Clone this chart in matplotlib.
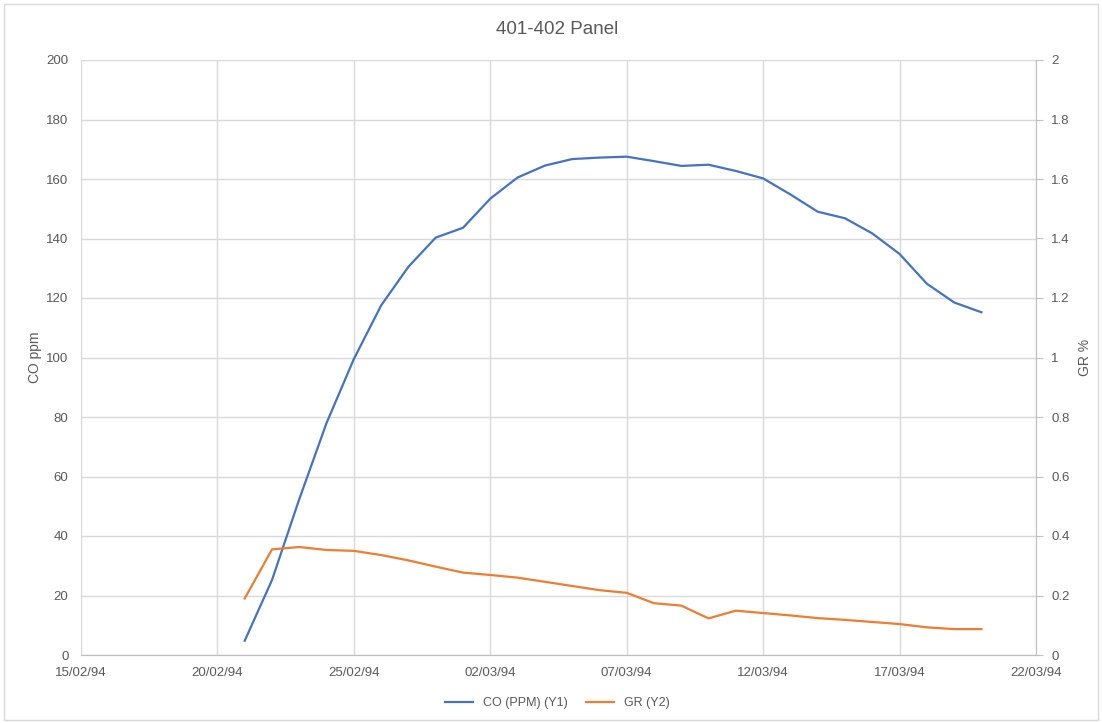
import numpy as np
import matplotlib
matplotlib.use("Agg")
import matplotlib.pyplot as plt
import matplotlib.dates as mdates
import matplotlib.patches as patch
from datetime import datetime, timedelta

plt.rcParams['font.family'] = ['Liberation Sans', 'DejaVu Sans']

# Daily readings, 21/02/94 to 20/03/94
start_day = datetime(1994, 2, 21)
co_ppm = [4.8, 25.2, 52.4, 78.0, 99.5, 117.5, 130.5, 140.3, 143.6, 153.4,
          160.5, 164.5, 166.7, 167.2, 167.5, 166.0, 164.4, 164.8, 162.7, 160.2,
          154.8, 149.0, 146.8, 141.7, 134.8, 124.8, 118.5, 115.2]
gr_pct = [0.19, 0.355, 0.363, 0.353, 0.35, 0.336, 0.318, 0.297, 0.277, 0.269,
          0.26, 0.246, 0.232, 0.218, 0.209, 0.174, 0.166, 0.123, 0.149, 0.141,
          0.133, 0.124, 0.118, 0.111, 0.104, 0.093, 0.087, 0.087]
days = [start_day + timedelta(days=i) for i in range(len(co_ppm))]

title = "401-402 Panel"
y1_label = "CO ppm"
y2_label = "GR %"
legend_names = ["CO (PPM) (Y1)", "GR (Y2)"]

blue = "#4472C4"
orange = "#ED7D31"
grid_col = "#D9D9D9"
txt_col = "#595959"

fig = plt.figure(figsize=(11.02, 7.23), dpi=100)
ax = fig.add_axes([81/1102, 1 - 655/723, (1036 - 81)/1102, (655 - 60)/723])
ax2 = ax.twinx()

l1, = ax.plot(days, co_ppm, color=blue, lw=1.6, label=legend_names[0])
l2, = ax2.plot(days, gr_pct, color=orange, lw=1.6, label=legend_names[1])

ax.set_xlim(datetime(1994, 2, 15), datetime(1994, 3, 22))
ax.set_xticks([datetime(1994, 2, 15) + timedelta(days=5 * k) for k in range(8)])
ax.xaxis.set_major_formatter(mdates.DateFormatter('%d/%m/%y'))

ax.set_ylim(0, 200)
ax.set_yticks(np.arange(0, 201, 20))
ax2.set_ylim(0, 2)
ax2.set_yticks(np.arange(0, 2.01, 0.2))
ax2.set_yticklabels(["0", "0.2", "0.4", "0.6", "0.8", "1", "1.2", "1.4", "1.6", "1.8", "2"])

ax.grid(True, color=grid_col, lw=1)
ax.set_axisbelow(True)

for a in (ax, ax2):
    for s in ("top", "left", "right"):
        a.spines[s].set_visible(False)
    a.spines["bottom"].set_color("#BFBFBF")
ax2.spines["right"].set_visible(True)
ax2.spines["right"].set_color("#BFBFBF")

ax.tick_params(axis="x", length=0, pad=9, labelsize=9.5, labelcolor=txt_col)
ax.tick_params(axis="y", length=0, pad=9, labelsize=9.5, labelcolor=txt_col)
ax2.tick_params(axis="y", length=5, color="#BFBFBF", pad=6, labelsize=9.5, labelcolor=txt_col)

ax.set_ylabel(y1_label, fontsize=10, color=txt_col, labelpad=3)
ax2.set_ylabel(y2_label, fontsize=10, color=txt_col, rotation=90, labelpad=6)

fig.text(0.506, 1 - 30/723, title, ha="center", va="center", fontsize=13.5, color=txt_col)

fig.legend(handles=[l1, l2], loc="center", bbox_to_anchor=(0.506, 1 - 703/723),
           ncol=2, frameon=False, fontsize=9, handlelength=2.2, columnspacing=1.5,
           labelcolor=txt_col)

# light chart border
fig.patches.append(patch.Rectangle((0.004, 0.004), 0.992, 0.99, transform=fig.transFigure,
                                   fill=False, edgecolor="#D9D9D9", lw=1))

fig.savefig("out.png", dpi=100)
